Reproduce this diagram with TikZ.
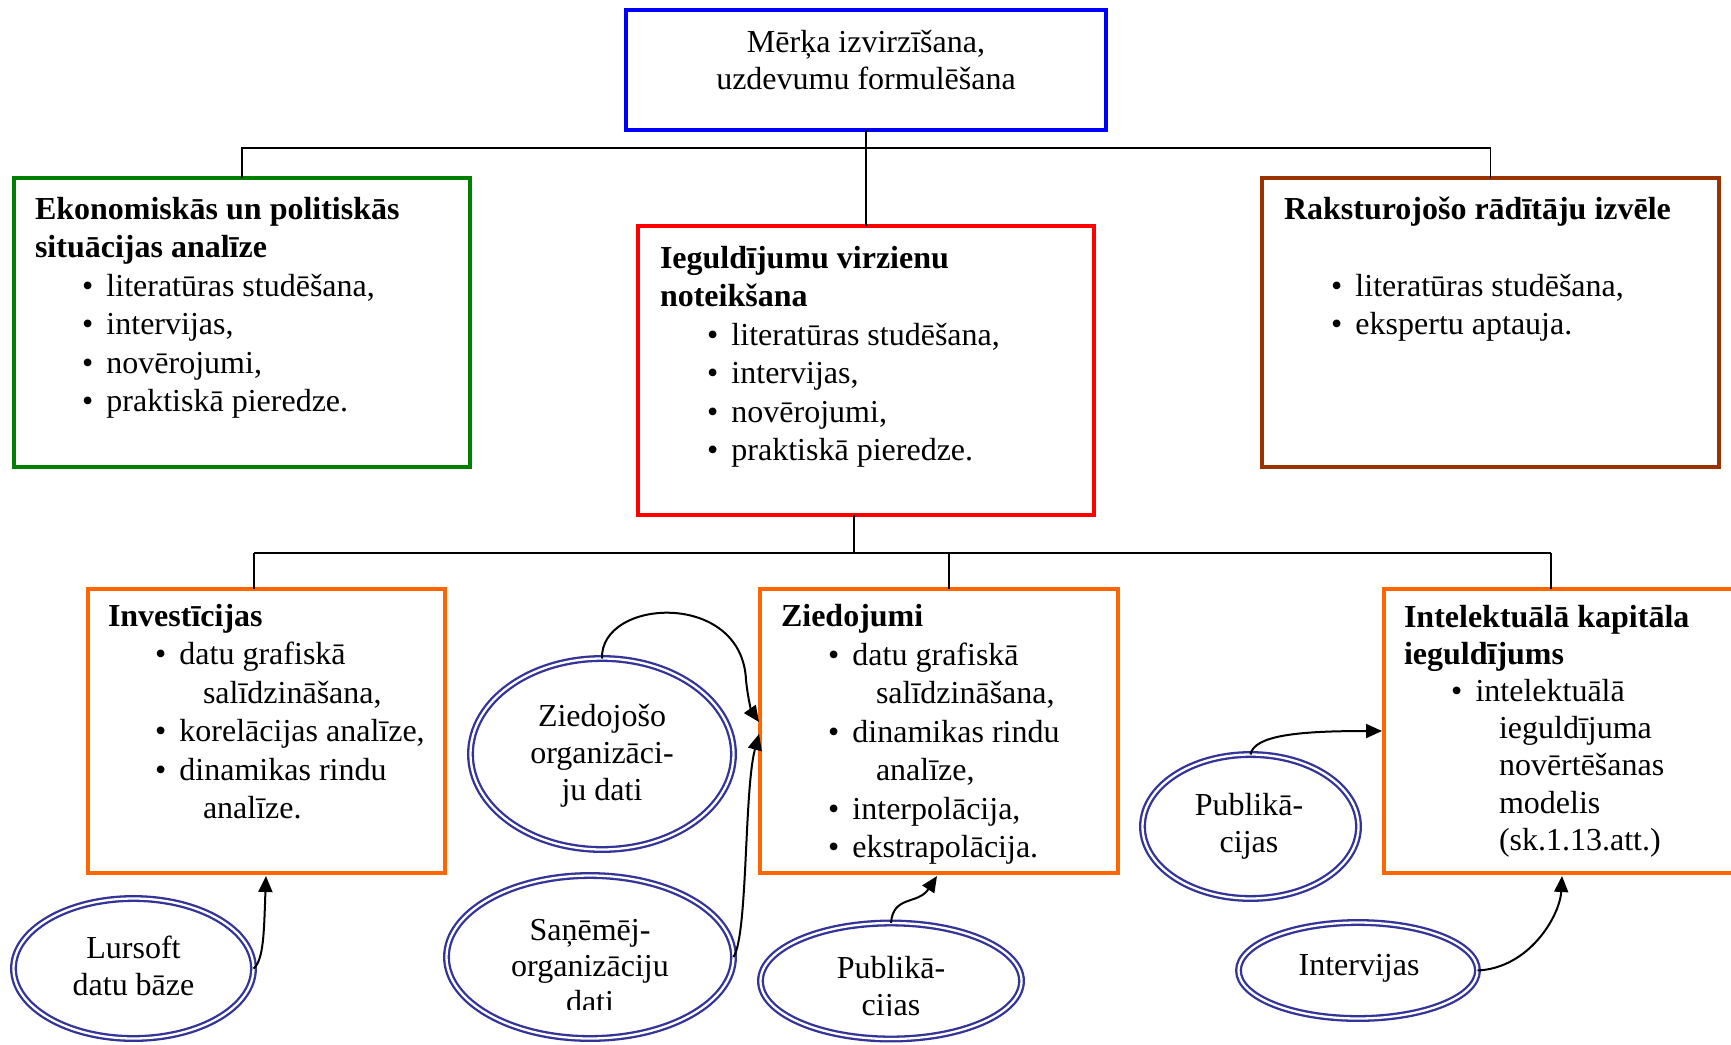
\documentclass[tikz,border=0pt]{standalone}
\usepackage{fontspec}
\setmainfont{Liberation Serif}
\usetikzlibrary{shapes.geometric,arrows.meta,calc}
\definecolor{boxblue}{RGB}{0,0,255}
\definecolor{boxgreen}{RGB}{0,128,0}
\definecolor{boxred}{RGB}{255,0,0}
\definecolor{boxbrown}{RGB}{153,51,0}
\definecolor{boxorange}{RGB}{255,102,0}
\definecolor{ellblue}{RGB}{51,51,153}
\newcommand\bul{\hspace*{47pt}\makebox[24.5pt][l]{•}}
\newcommand\cnt{\hspace*{95pt}}
\begin{document}
\begin{tikzpicture}[x=1pt,y=-1pt,
  box/.style={draw, line width=4pt, rectangle, inner sep=0pt, outer sep=0pt},
  txt/.style={inner sep=0pt, outer sep=0pt, align=left, anchor=base west, font=\fontsize{32pt}{38.5pt}\selectfont},
  ctxt/.style={inner sep=0pt, outer sep=0pt, align=center, anchor=base, font=\fontsize{32pt}{37pt}\selectfont},
  src/.style={ellipse, draw=ellblue, double=white, double distance=2.3pt, line width=2.3pt, inner sep=0pt, outer sep=0pt},
  bus/.style={line width=1.8pt},
  arr/.style={line width=2pt, -{Triangle[length=16pt,width=14pt]}}]

\clip (0,0) rectangle (1731,1044);
\fill[white] (0,0) rectangle (1731,1044);

% boxes
\node[box, draw=boxblue, minimum width=480pt, minimum height=120pt] (goal) at (866,70) {};
\node[box, draw=boxgreen, minimum width=456pt, minimum height=289pt] (econ) at (242,322.5) {};
\node[box, draw=boxred, minimum width=456pt, minimum height=289pt] (dir) at (866,370.5) {};
\node[box, draw=boxbrown, minimum width=457pt, minimum height=289pt] (ind) at (1490.5,322.5) {};
\node[box, draw=boxorange, minimum width=357pt, minimum height=284pt] (inv) at (266.5,731) {};
\node[box, draw=boxorange, minimum width=358pt, minimum height=284pt] (zied) at (939,731) {};
\node[box, draw=boxorange, minimum width=361pt, minimum height=284pt] (intel) at (1564.5,731) {};

% box texts (anchor = baseline of the last line)
\node[ctxt] (goalt) at (866,89) {Mērķa izvirzīšana,\\uzdevumu formulēšana};
\node[txt] (econt) at (35,411.5) {\textbf{Ekonomiskās un politiskās}\\\textbf{situācijas analīze}\\\bul literatūras studēšana,\\\bul intervijas,\\\bul novērojumi,\\\bul praktiskā pieredze.};
\node[txt] (dirt) at (660,460.5) {\textbf{Ieguldījumu virzienu}\\\textbf{noteikšana}\\\bul literatūras studēšana,\\\bul intervijas,\\\bul novērojumi,\\\bul praktiskā pieredze.};
\node[txt] (indt) at (1284,334.5) {\textbf{Raksturojošo rādītāju izvēle}\\\mbox{}\\\bul literatūras studēšana,\\\bul ekspertu aptauja.};
\node[txt] (invt) at (108,818.5) {\textbf{Investīcijas}\\\bul datu grafiskā\\\cnt salīdzināšana,\\\bul korelācijas analīze,\\\bul dinamikas rindu\\\cnt analīze.};
\node[txt] (ziedt) at (781,857.5) {\textbf{Ziedojumi}\\\bul datu grafiskā\\\cnt salīdzināšana,\\\bul dinamikas rindu\\\cnt analīze,\\\bul interpolācija,\\\bul ekstrapolācija.};
\node[txt, font=\fontsize{32pt}{37.2pt}\selectfont] (intelt) at (1404,850.2) {\textbf{Intelektuālā kapitāla}\\\textbf{ieguldījums}\\\bul intelektuālā\\\cnt ieguldījuma\\\cnt novērtēšanas\\\cnt modelis\\\cnt (sk.1.13.att.)};

% connectors
\coordinate (b1) at (866,148);
\draw[bus] (goal.south) -- (dir.north);
\draw[bus] (econ.north) -- (econ.north |- b1) -- (ind.north |- b1) -- (ind.north);
\coordinate (b2) at (854,553);
\coordinate (c1) at (254,553);
\coordinate (c2) at (949,553);
\coordinate (c3) at (1551,553);
\draw[bus] (b2 |- dir.south) -- (b2);
\draw[bus] (c1) -- (c3);
\draw[bus] (c1) -- (c1 |- inv.north);
\draw[bus] (c2) -- (c2 |- zied.north);
\draw[bus] (c3) -- (c3 |- intel.north);

% source ellipses
\node[src, minimum width=263pt, minimum height=191pt] (zo) at (602,754) {};
\node[src, minimum width=287pt, minimum height=163pt] (sa) at (590,957) {};
\node[src, minimum width=240pt, minimum height=140pt] (lu) at (133.5,968.5) {};
\node[src, minimum width=261pt, minimum height=116pt] (pb) at (891,981) {};
\node[src, minimum width=216pt, minimum height=144pt] (pr) at (1250.5,826.5) {};
\node[src, minimum width=239pt, minimum height=96pt] (iv) at (1358,970.5) {};

\node[ctxt] (zot) at (602,800) {Ziedojošo\\organizāci-\\ju dati};
\begin{scope}
\clip (430,860) rectangle (750,1009);
\node[ctxt, font=\fontsize{32pt}{36pt}\selectfont] (sat) at (590,1012) {Saņēmēj-\\organizāciju\\dati};
\end{scope}
\node[ctxt] (lut) at (133.5,995) {Lursoft\\datu bāze};
\begin{scope}
\clip (760,925) rectangle (1025,1015);
\node[ctxt] (pbt) at (891,1015) {Publikā-\\cijas};
\end{scope}
\node[ctxt] (prt) at (1249,852) {Publikā-\\cijas};
\node[ctxt] (ivt) at (1359,975) {Intervijas};

% arrows
\draw[arr] (lu.east) .. controls (264,960) and (264,930) .. ($(inv.south west)+(178,3)$);
\draw[arr] (zo.north) .. controls (600,598) and (742,590) .. (746,680) .. controls (748,700) and (752,712) .. ($(zied.north west)+(-1,133)$);
\draw[arr] (sa.east) .. controls (748,935) and (744,790) .. ($(zied.north west)+(-1,145)$);
\draw[arr] (pb.north) .. controls (893,895) and (918,905) .. ($(zied.south west)+(177,3)$);
\draw[arr] (pr.north) .. controls (1254,735) and (1300,731) .. ($(intel.north west)+(-2,142)$);
\draw[arr] (iv.east) .. controls (1530,968) and (1560,915) .. ($(intel.south west)+(178,3)$);
\end{tikzpicture}
\end{document}
